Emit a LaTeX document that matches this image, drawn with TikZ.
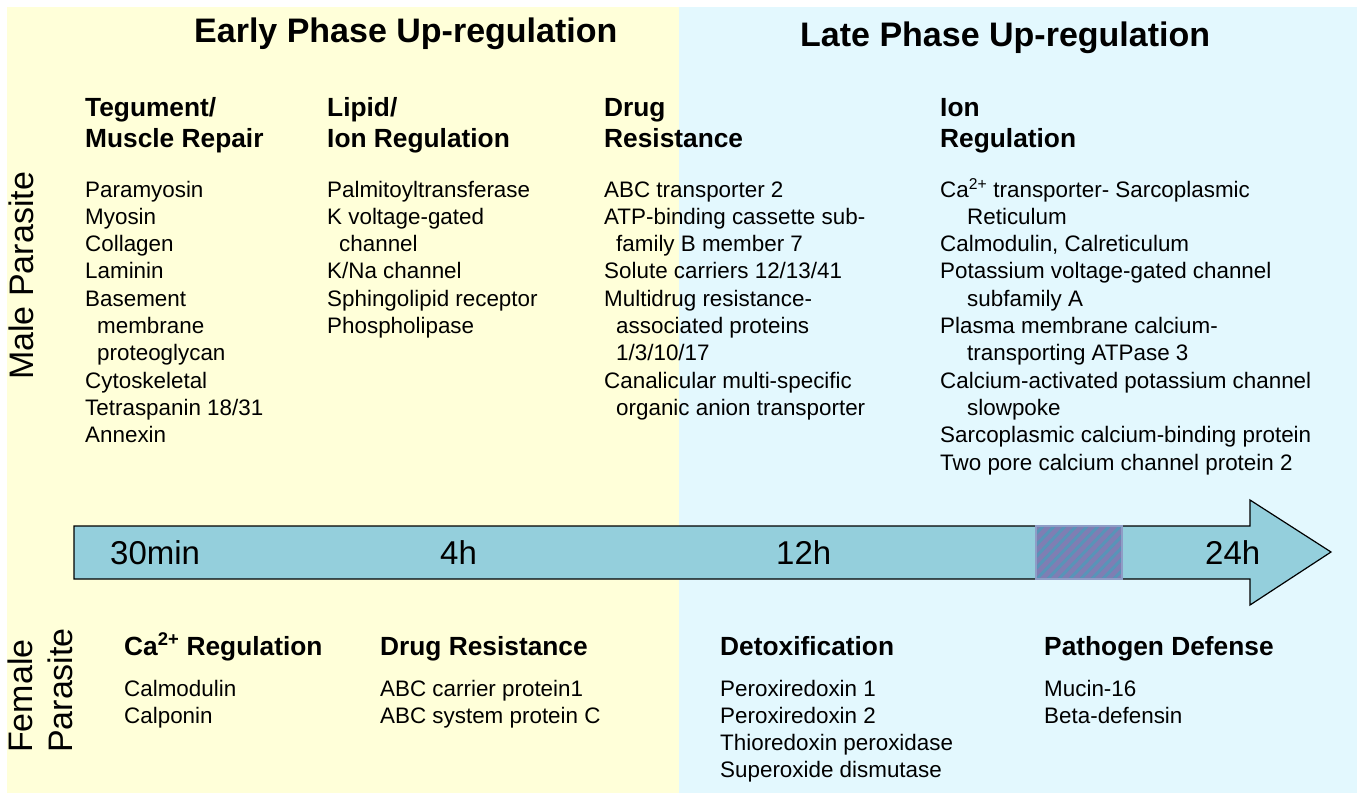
\documentclass[tikz,border=0pt]{standalone}
\usepackage{fontspec}
\setmainfont{Liberation Sans}
\definecolor{bgyellow}{HTML}{FFFFD9}
\definecolor{bgblue}{HTML}{E3F8FE}
\definecolor{arrowfill}{HTML}{94CFDC}
\definecolor{hatchbg}{HTML}{7F7EB3}
\definecolor{hatchline}{HTML}{5894B8}
\definecolor{hatchedge}{HTML}{8E9DC6}
\tikzset{
  item/.style={anchor=base west, inner sep=0pt, font=\fontsize{22.4}{26}\selectfont},
  head/.style={anchor=base west, inner sep=0pt, font=\bfseries\fontsize{26.3}{31}\selectfont},
  bigtitle/.style={anchor=base west, inner sep=0pt, font=\bfseries\fontsize{34}{40}\selectfont},
  side/.style={anchor=base west, inner sep=0pt, rotate=90, font=\fontsize{34}{40}\selectfont},
  timelbl/.style={anchor=base west, inner sep=0pt, font=\fontsize{33}{40}\selectfont},
}
\newcommand\itemcol[4]{%
  \foreach \txt [count=\i from 0] in {#4} {\node[item] (#1-\i) at ({#2},{#3+27.3*\i}) {\txt};}}
\begin{document}
\begin{tikzpicture}[x=1pt,y=-1pt]
\useasboundingbox (0,0) rectangle (1364,800);
\fill[white] (0,0) rectangle (1364,800);
\fill[bgyellow] (7,7) rectangle (679,793);
\fill[bgblue] (679,7) rectangle (1357,793);

% titles
\node[bigtitle] (early) at (194,42) {Early Phase Up-regulation};
\node[bigtitle] (late) at (800,47) {Late Phase Up-regulation};

% side labels
\node[side] (male) at (33,380) {Male Parasite};
\node[side] (female) at (32,753) {Female};
\node[side] (parasite) at (72,753) {Parasite};

% male headings
\node[head] (mh1a) at (85,116) {Tegument/};
\node[head] (mh1b) at (85,147) {Muscle Repair};
\node[head] (mh2a) at (327,116) {Lipid/};
\node[head] (mh2b) at (327,147) {Ion Regulation};
\node[head] (mh3a) at (604,116) {Drug};
\node[head] (mh3b) at (604,147) {Resistance};
\node[head] (mh4a) at (940,116) {Ion};
\node[head] (mh4b) at (940,147) {Regulation};

% male items
\itemcol{m1}{85}{197}{Paramyosin, Myosin, Collagen, Laminin, Basement, \hspace*{12pt}membrane, \hspace*{12pt}proteoglycan, Cytoskeletal, Tetraspanin 18/31, Annexin}
\itemcol{m2}{327}{197}{Palmitoyltransferase, K voltage-gated, \hspace*{12pt}channel, K/Na channel, Sphingolipid receptor, Phospholipase}
\itemcol{m3}{604}{197}{ABC transporter 2, ATP-binding cassette sub-, \hspace*{12pt}family B member 7, Solute carriers 12/13/41, Multidrug resistance-, \hspace*{12pt}associated proteins, \hspace*{12pt}1/3/10/17, Canalicular multi-specific, \hspace*{12pt}organic anion transporter}
\itemcol{m4}{940}{197}{Ca\textsuperscript{2+} transporter- Sarcoplasmic, \hspace*{27pt}Reticulum, {Calmodulin, Calreticulum}, Potassium voltage-gated channel, \hspace*{27pt}subfamily A, Plasma membrane calcium-, \hspace*{27pt}transporting ATPase 3, Calcium-activated potassium channel, \hspace*{27pt}slowpoke, Sarcoplasmic calcium-binding protein, Two pore calcium channel protein 2}

% timeline arrow
\draw[fill=arrowfill, line width=1.2pt, line join=miter]
  (74,526) -- (1250,526) -- (1250,500) -- (1331,552) -- (1250,605) -- (1250,579) -- (74,579) -- cycle;
\fill[hatchbg] (1036,526) rectangle (1122,579);
\begin{scope}
  \clip (1036,526) rectangle (1122,579);
  \foreach \k in {0,...,14} {
    \draw[hatchline, line width=3pt] ({1036-60+11*\k},585) -- ({1036-60+11*\k+62},520);
  }
\end{scope}
\draw[hatchedge, line width=1.2pt] (1036,526) rectangle (1122,579);

\node[timelbl] (t30) at (110,564) {30min};
\node[timelbl] (t4) at (440,564) {4h};
\node[timelbl] (t12) at (776,564) {12h};
\node[timelbl] (t24) at (1205,564) {24h};

% female headings
\node[head] (fh1) at (124,655) {Ca\textsuperscript{2+} Regulation};
\node[head] (fh2) at (380,655) {Drug Resistance};
\node[head] (fh3) at (720,655) {Detoxification};
\node[head] (fh4) at (1044,655) {Pathogen Defense};

% female items
\itemcol{f1}{124}{696}{Calmodulin, Calponin}
\itemcol{f2}{380}{696}{ABC carrier protein1, ABC system protein C}
\itemcol{f3}{720}{696}{Peroxiredoxin 1, Peroxiredoxin 2, Thioredoxin peroxidase, Superoxide dismutase}
\itemcol{f4}{1044}{696}{Mucin-16, Beta-defensin}
\end{tikzpicture}
\end{document}
